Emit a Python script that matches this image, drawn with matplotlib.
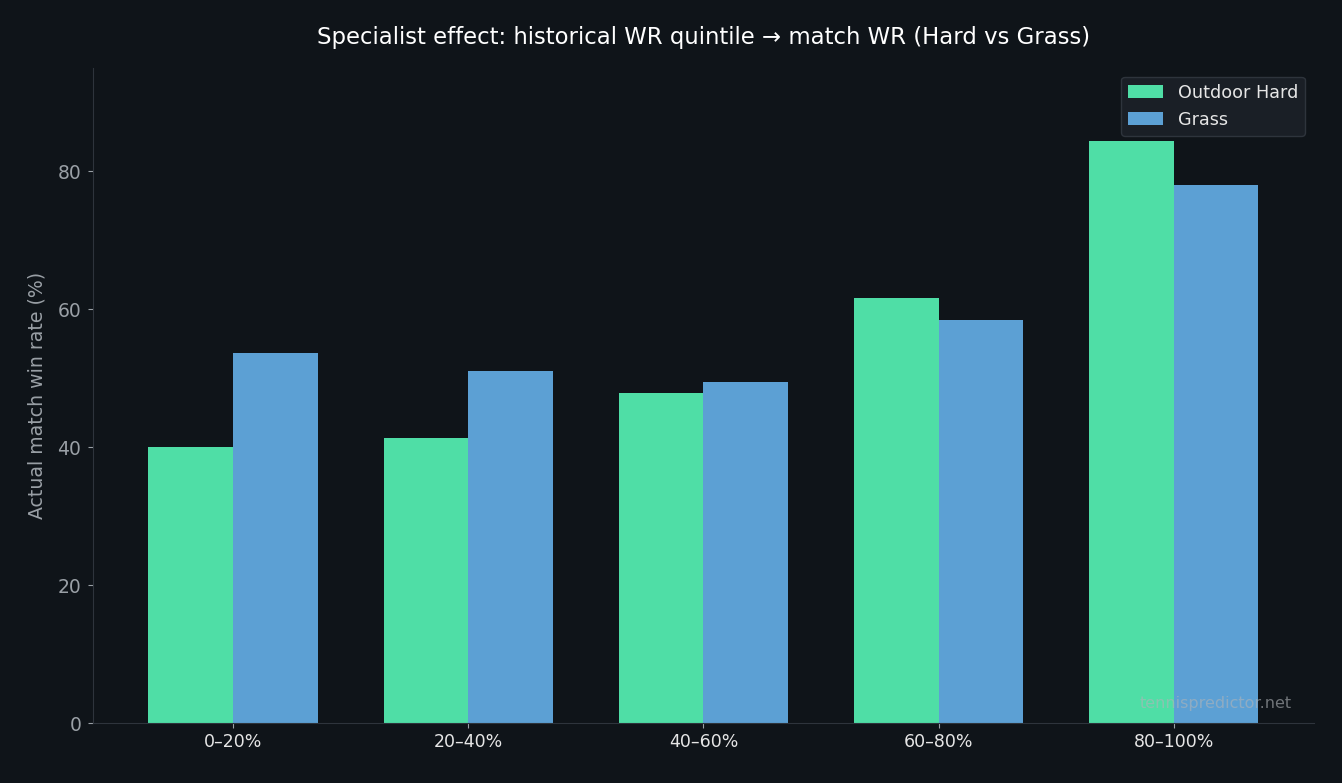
import matplotlib
matplotlib.use("Agg")
import matplotlib.pyplot as plt
import numpy as np

plt.rcParams["font.family"] = ["DejaVu Sans"]

categories = ["0–20%", "20–40%", "40–60%", "60–80%", "80–100%"]
hard_values = [40.0, 41.4, 47.9, 61.6, 84.4]
grass_values = [53.7, 51.1, 49.5, 58.4, 78.0]

BG = "#0f1419"
GREEN = "#4fdea6"
BLUE = "#5ca0d4"
SPINE = "#2e343c"
TICK = "#9aa0a6"

fig = plt.figure(figsize=(13.42, 7.83), dpi=100, facecolor=BG)
ax = fig.add_axes([0.0693, 0.0766, 0.9097, 0.8366])
ax.set_facecolor(BG)

x = np.arange(len(categories))
w = 0.36
ax.bar(x - w / 2, hard_values, w, color=GREEN, label="Outdoor Hard")
ax.bar(x + w / 2, grass_values, w, color=BLUE, label="Grass")

ax.set_ylim(0, 95)
ax.set_xticks(x)
ax.set_xticklabels(categories)
ax.tick_params(axis="x", colors=TICK, labelcolor="#e6e6e6", labelsize=12.5)
ax.tick_params(axis="y", colors=TICK, labelcolor=TICK, labelsize=13.5, pad=5)
ax.set_yticks([0, 20, 40, 60, 80])
for s in ["top", "right"]:
    ax.spines[s].set_visible(False)
for s in ["left", "bottom"]:
    ax.spines[s].set_color(SPINE)
ax.set_ylabel("Actual match win rate (%)", color=TICK, fontsize=13.6, labelpad=8)
ax.set_title("Specialist effect: historical WR quintile → match WR (Hard vs Grass)",
             color="white", fontsize=16.4, pad=17)

leg = ax.legend(loc="upper right", facecolor="#1a1f26", edgecolor=SPINE,
                fontsize=12.7, framealpha=1)
for t in leg.get_texts():
    t.set_color("#e6e6e6")

ax.text(0.982, 0.018, "tennispredictor.net", transform=ax.transAxes,
        ha="right", va="bottom", color="#b0b4b8", alpha=0.6, fontsize=11.5)

fig.savefig("out.png", dpi=100, facecolor=BG)
